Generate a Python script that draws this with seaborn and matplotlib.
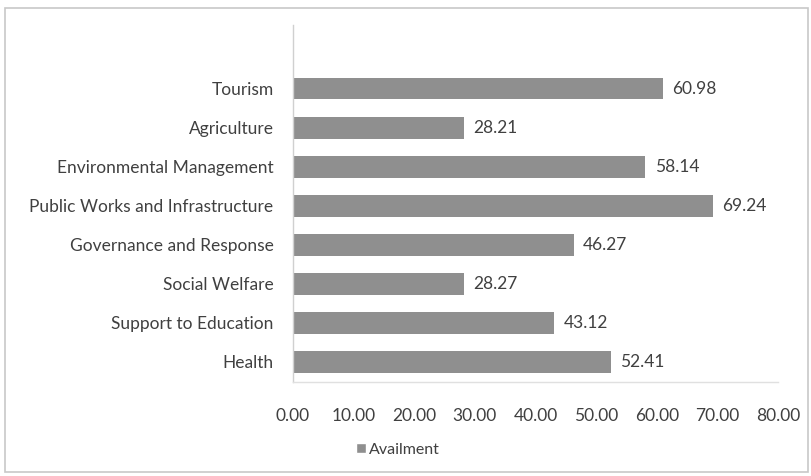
import matplotlib
matplotlib.use("Agg")
import matplotlib.pyplot as plt
import seaborn as sns
import pandas as pd
from matplotlib.patches import Rectangle, Patch
from matplotlib.ticker import FuncFormatter, MultipleLocator

categories = ["Tourism", "Agriculture", "Environmental Management",
              "Public Works and Infrastructure", "Governance and Response",
              "Social Welfare", "Support to Education", "Health"]
availment = [60.98, 28.21, 58.14, 69.24, 46.27, 28.27, 43.12, 52.41]
series_name = "Availment"

df = pd.DataFrame({"category": categories, "value": availment})

sns.set_theme(style="white")
plt.rcParams["font.family"] = ["Lato", "DejaVu Sans"]

bar_color = "#8f8f8f"
text_color = "#404040"
fs = 12.5

fig = plt.figure(figsize=(8.12, 4.76), dpi=100)
ax = fig.add_axes([293/812, 1-381.5/476, (778-293)/812, (381.5-25)/476])

sns.barplot(data=df, x="value", y="category", color=bar_color, width=0.54,
            saturation=1, ax=ax, edgecolor="none")

ax.set_xlim(0, 80)
ax.set_ylim(7.5, -1.64)
ax.xaxis.set_major_locator(MultipleLocator(10))
ax.xaxis.set_major_formatter(FuncFormatter(lambda v, p: f"{v:.2f}"))
ax.set_xlabel("")
ax.set_ylabel("")
ax.tick_params(axis="both", length=0, labelsize=fs, colors=text_color)
ax.tick_params(axis="x", pad=19)
ax.tick_params(axis="y", pad=14)

for s in ["top", "right"]:
    ax.spines[s].set_visible(False)
ax.spines["left"].set_color("#d0d0d0")
ax.spines["bottom"].set_color("#e0e0e0")
ax.spines["left"].set_linewidth(1.0)
ax.spines["bottom"].set_linewidth(1.0)

for i, v in enumerate(availment):
    ax.text(v + 1.5, i, f"{v:.2f}", va="center", ha="left", fontsize=fs, color=text_color)

fig.legend(handles=[Patch(facecolor=bar_color, label=series_name)],
           loc="center left", bbox_to_anchor=(350/812, 1-450/476), frameon=False,
           fontsize=11.5, handlelength=0.6, handleheight=0.6, handletextpad=0.2,
           labelcolor=text_color, borderaxespad=0)

fig.patches.append(Rectangle((5/812, 4/476), 803/812, (468-4)/476, transform=fig.transFigure,
                             fill=False, edgecolor="#c8c8c8", linewidth=1.2))

fig.savefig("out.png", dpi=100)
